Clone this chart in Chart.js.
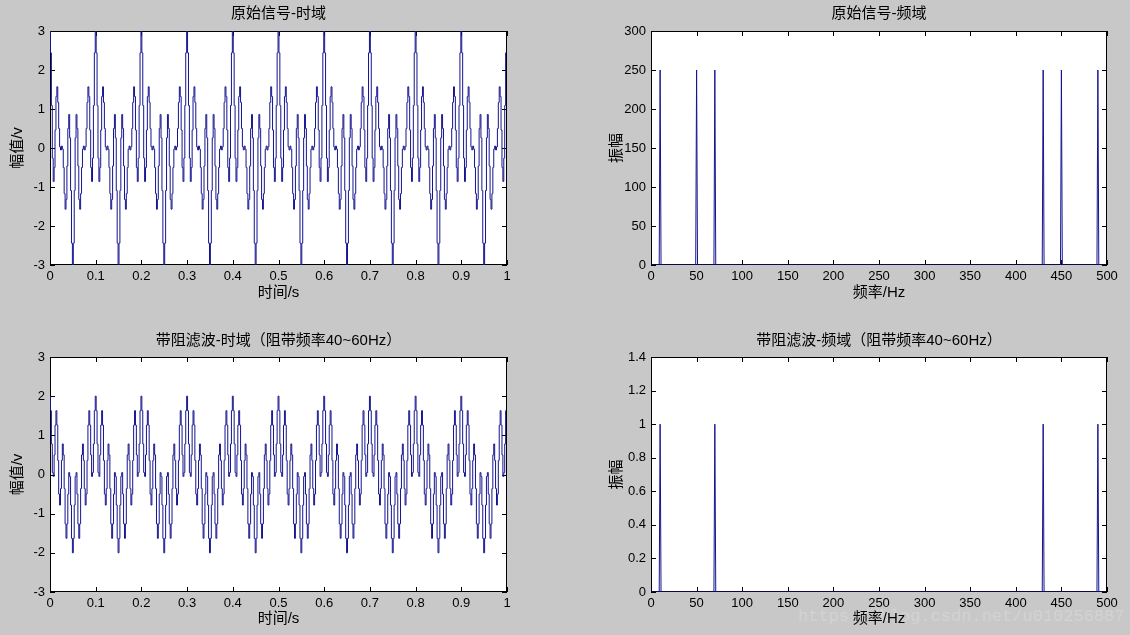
<!DOCTYPE html>
<html><head><meta charset="utf-8">
<script src="https://cdn.jsdelivr.net/npm/chart.js@4.4.1/dist/chart.umd.min.js"></script>
<style>
html,body{margin:0;padding:0;background:#c8c8c8;width:1130px;height:635px;overflow:hidden;}
.wrap{position:absolute;}
canvas{display:block;}
#wm{position:absolute;left:798px;top:607px;font:17px 'Liberation Mono','DejaVu Sans Mono',monospace;color:#d3d3d3;white-space:nowrap;}
</style></head><body>
<div id="wm">https://blog.csdn.net/u010256887</div>
<div class="wrap" style="left:0;top:0;width:565px;height:318px"><canvas id="c1" width="565" height="318"></canvas></div>
<div class="wrap" style="left:565px;top:0;width:565px;height:318px"><canvas id="c2" width="565" height="318"></canvas></div>
<div class="wrap" style="left:0;top:318px;width:565px;height:317px"><canvas id="c3" width="565" height="317"></canvas></div>
<div class="wrap" style="left:565px;top:318px;width:565px;height:317px"><canvas id="c4" width="565" height="317"></canvas></div>
<script>
// sampling rate (Hz) of the time-domain signals
const fs = 500;

// original signal, 500 samples (t = 0 .. 0.998 s)
const sigOriginal = [
3,2.44,1.09,-0.26,-0.86,-0.5,0.46,1.32,1.57,1.17,0.5,0.03,-0.05,0.05,-0.03,-0.5,-1.17,-1.57,-1.32,-0.46,0.5,0.86,0.26,-1.09,-2.44,-3,-2.44,-1.09,0.26,0.86,0.5,-0.46,-1.32,-1.57,-1.17,-0.5,-0.03,0.05,-0.05,0.03,0.5,1.17,1.57,1.32,0.46,-0.5,-0.86,-0.26,1.09,2.44,
3,2.44,1.09,-0.26,-0.86,-0.5,0.46,1.32,1.57,1.17,0.5,0.03,-0.05,0.05,-0.03,-0.5,-1.17,-1.57,-1.32,-0.46,0.5,0.86,0.26,-1.09,-2.44,-3,-2.44,-1.09,0.26,0.86,0.5,-0.46,-1.32,-1.57,-1.17,-0.5,-0.03,0.05,-0.05,0.03,0.5,1.17,1.57,1.32,0.46,-0.5,-0.86,-0.26,1.09,2.44,
3,2.44,1.09,-0.26,-0.86,-0.5,0.46,1.32,1.57,1.17,0.5,0.03,-0.05,0.05,-0.03,-0.5,-1.17,-1.57,-1.32,-0.46,0.5,0.86,0.26,-1.09,-2.44,-3,-2.44,-1.09,0.26,0.86,0.5,-0.46,-1.32,-1.57,-1.17,-0.5,-0.03,0.05,-0.05,0.03,0.5,1.17,1.57,1.32,0.46,-0.5,-0.86,-0.26,1.09,2.44,
3,2.44,1.09,-0.26,-0.86,-0.5,0.46,1.32,1.57,1.17,0.5,0.03,-0.05,0.05,-0.03,-0.5,-1.17,-1.57,-1.32,-0.46,0.5,0.86,0.26,-1.09,-2.44,-3,-2.44,-1.09,0.26,0.86,0.5,-0.46,-1.32,-1.57,-1.17,-0.5,-0.03,0.05,-0.05,0.03,0.5,1.17,1.57,1.32,0.46,-0.5,-0.86,-0.26,1.09,2.44,
3,2.44,1.09,-0.26,-0.86,-0.5,0.46,1.32,1.57,1.17,0.5,0.03,-0.05,0.05,-0.03,-0.5,-1.17,-1.57,-1.32,-0.46,0.5,0.86,0.26,-1.09,-2.44,-3,-2.44,-1.09,0.26,0.86,0.5,-0.46,-1.32,-1.57,-1.17,-0.5,-0.03,0.05,-0.05,0.03,0.5,1.17,1.57,1.32,0.46,-0.5,-0.86,-0.26,1.09,2.44,
3,2.44,1.09,-0.26,-0.86,-0.5,0.46,1.32,1.57,1.17,0.5,0.03,-0.05,0.05,-0.03,-0.5,-1.17,-1.57,-1.32,-0.46,0.5,0.86,0.26,-1.09,-2.44,-3,-2.44,-1.09,0.26,0.86,0.5,-0.46,-1.32,-1.57,-1.17,-0.5,-0.03,0.05,-0.05,0.03,0.5,1.17,1.57,1.32,0.46,-0.5,-0.86,-0.26,1.09,2.44,
3,2.44,1.09,-0.26,-0.86,-0.5,0.46,1.32,1.57,1.17,0.5,0.03,-0.05,0.05,-0.03,-0.5,-1.17,-1.57,-1.32,-0.46,0.5,0.86,0.26,-1.09,-2.44,-3,-2.44,-1.09,0.26,0.86,0.5,-0.46,-1.32,-1.57,-1.17,-0.5,-0.03,0.05,-0.05,0.03,0.5,1.17,1.57,1.32,0.46,-0.5,-0.86,-0.26,1.09,2.44,
3,2.44,1.09,-0.26,-0.86,-0.5,0.46,1.32,1.57,1.17,0.5,0.03,-0.05,0.05,-0.03,-0.5,-1.17,-1.57,-1.32,-0.46,0.5,0.86,0.26,-1.09,-2.44,-3,-2.44,-1.09,0.26,0.86,0.5,-0.46,-1.32,-1.57,-1.17,-0.5,-0.03,0.05,-0.05,0.03,0.5,1.17,1.57,1.32,0.46,-0.5,-0.86,-0.26,1.09,2.44,
3,2.44,1.09,-0.26,-0.86,-0.5,0.46,1.32,1.57,1.17,0.5,0.03,-0.05,0.05,-0.03,-0.5,-1.17,-1.57,-1.32,-0.46,0.5,0.86,0.26,-1.09,-2.44,-3,-2.44,-1.09,0.26,0.86,0.5,-0.46,-1.32,-1.57,-1.17,-0.5,-0.03,0.05,-0.05,0.03,0.5,1.17,1.57,1.32,0.46,-0.5,-0.86,-0.26,1.09,2.44,
3,2.44,1.09,-0.26,-0.86,-0.5,0.46,1.32,1.57,1.17,0.5,0.03,-0.05,0.05,-0.03,-0.5,-1.17,-1.57,-1.32,-0.46,0.5,0.86,0.26,-1.09,-2.44,-3,-2.44,-1.09,0.26,0.86,0.5,-0.46,-1.32,-1.57,-1.17,-0.5,-0.03,0.05,-0.05,0.03,0.5,1.17,1.57,1.32,0.46,-0.5,-0.86,-0.26,1.09,2.44
];

// band-stop filtered signal, 500 samples
const sigFiltered = [
2,1.63,0.78,0.05,-0.05,0.5,1.26,1.63,1.26,0.36,-0.5,-0.78,-0.36,0.36,0.78,0.5,-0.36,-1.26,-1.63,-1.26,-0.5,0.05,-0.05,-0.78,-1.63,-2,-1.63,-0.78,-0.05,0.05,-0.5,-1.26,-1.63,-1.26,-0.36,0.5,0.78,0.36,-0.36,-0.78,-0.5,0.36,1.26,1.63,1.26,0.5,-0.05,0.05,0.78,1.63,
2,1.63,0.78,0.05,-0.05,0.5,1.26,1.63,1.26,0.36,-0.5,-0.78,-0.36,0.36,0.78,0.5,-0.36,-1.26,-1.63,-1.26,-0.5,0.05,-0.05,-0.78,-1.63,-2,-1.63,-0.78,-0.05,0.05,-0.5,-1.26,-1.63,-1.26,-0.36,0.5,0.78,0.36,-0.36,-0.78,-0.5,0.36,1.26,1.63,1.26,0.5,-0.05,0.05,0.78,1.63,
2,1.63,0.78,0.05,-0.05,0.5,1.26,1.63,1.26,0.36,-0.5,-0.78,-0.36,0.36,0.78,0.5,-0.36,-1.26,-1.63,-1.26,-0.5,0.05,-0.05,-0.78,-1.63,-2,-1.63,-0.78,-0.05,0.05,-0.5,-1.26,-1.63,-1.26,-0.36,0.5,0.78,0.36,-0.36,-0.78,-0.5,0.36,1.26,1.63,1.26,0.5,-0.05,0.05,0.78,1.63,
2,1.63,0.78,0.05,-0.05,0.5,1.26,1.63,1.26,0.36,-0.5,-0.78,-0.36,0.36,0.78,0.5,-0.36,-1.26,-1.63,-1.26,-0.5,0.05,-0.05,-0.78,-1.63,-2,-1.63,-0.78,-0.05,0.05,-0.5,-1.26,-1.63,-1.26,-0.36,0.5,0.78,0.36,-0.36,-0.78,-0.5,0.36,1.26,1.63,1.26,0.5,-0.05,0.05,0.78,1.63,
2,1.63,0.78,0.05,-0.05,0.5,1.26,1.63,1.26,0.36,-0.5,-0.78,-0.36,0.36,0.78,0.5,-0.36,-1.26,-1.63,-1.26,-0.5,0.05,-0.05,-0.78,-1.63,-2,-1.63,-0.78,-0.05,0.05,-0.5,-1.26,-1.63,-1.26,-0.36,0.5,0.78,0.36,-0.36,-0.78,-0.5,0.36,1.26,1.63,1.26,0.5,-0.05,0.05,0.78,1.63,
2,1.63,0.78,0.05,-0.05,0.5,1.26,1.63,1.26,0.36,-0.5,-0.78,-0.36,0.36,0.78,0.5,-0.36,-1.26,-1.63,-1.26,-0.5,0.05,-0.05,-0.78,-1.63,-2,-1.63,-0.78,-0.05,0.05,-0.5,-1.26,-1.63,-1.26,-0.36,0.5,0.78,0.36,-0.36,-0.78,-0.5,0.36,1.26,1.63,1.26,0.5,-0.05,0.05,0.78,1.63,
2,1.63,0.78,0.05,-0.05,0.5,1.26,1.63,1.26,0.36,-0.5,-0.78,-0.36,0.36,0.78,0.5,-0.36,-1.26,-1.63,-1.26,-0.5,0.05,-0.05,-0.78,-1.63,-2,-1.63,-0.78,-0.05,0.05,-0.5,-1.26,-1.63,-1.26,-0.36,0.5,0.78,0.36,-0.36,-0.78,-0.5,0.36,1.26,1.63,1.26,0.5,-0.05,0.05,0.78,1.63,
2,1.63,0.78,0.05,-0.05,0.5,1.26,1.63,1.26,0.36,-0.5,-0.78,-0.36,0.36,0.78,0.5,-0.36,-1.26,-1.63,-1.26,-0.5,0.05,-0.05,-0.78,-1.63,-2,-1.63,-0.78,-0.05,0.05,-0.5,-1.26,-1.63,-1.26,-0.36,0.5,0.78,0.36,-0.36,-0.78,-0.5,0.36,1.26,1.63,1.26,0.5,-0.05,0.05,0.78,1.63,
2,1.63,0.78,0.05,-0.05,0.5,1.26,1.63,1.26,0.36,-0.5,-0.78,-0.36,0.36,0.78,0.5,-0.36,-1.26,-1.63,-1.26,-0.5,0.05,-0.05,-0.78,-1.63,-2,-1.63,-0.78,-0.05,0.05,-0.5,-1.26,-1.63,-1.26,-0.36,0.5,0.78,0.36,-0.36,-0.78,-0.5,0.36,1.26,1.63,1.26,0.5,-0.05,0.05,0.78,1.63,
2,1.63,0.78,0.05,-0.05,0.5,1.26,1.63,1.26,0.36,-0.5,-0.78,-0.36,0.36,0.78,0.5,-0.36,-1.26,-1.63,-1.26,-0.5,0.05,-0.05,-0.78,-1.63,-2,-1.63,-0.78,-0.05,0.05,-0.5,-1.26,-1.63,-1.26,-0.36,0.5,0.78,0.36,-0.36,-0.78,-0.5,0.36,1.26,1.63,1.26,0.5,-0.05,0.05,0.78,1.63
];

// spectrum of original signal (frequency bins in Hz and amplitudes)
const freqOriginal = [0, 9, 10, 11, 49, 50, 51, 69, 70, 71, 429, 430, 431, 449, 450, 451, 489, 490, 491, 499];
const ampOriginal  = [0, 0, 250, 0, 0, 250, 0, 0, 250, 0, 0, 250, 0, 0, 250, 0, 0, 250, 0, 0];

// spectrum after band-stop filtering
const freqFiltered = [0, 9, 10, 11, 69, 70, 71, 429, 430, 431, 489, 490, 491, 499];
const ampFiltered  = [0, 0, 1, 0, 0, 1, 0, 0, 1, 0, 0, 1, 0, 0];

// titles and labels
const titles = ['原始信号-时域', '原始信号-频域', '带阻滤波-时域（阻带频率40~60Hz）', '带阻滤波-频域（阻带频率40~60Hz）'];
const xLabels = ['时间/s', '频率/Hz', '时间/s', '频率/Hz'];
const yLabels = ['幅值/v', '振幅', '幅值/v', '振幅'];

const LINE = '#14148f';
const TICKFONT = {family: "'Liberation Sans', Arial, sans-serif", size: 13};
const CJKFONT = "'Liberation Sans', 'Noto Sans CJK SC', sans-serif";
const fmt = v => String(Math.round(v * 1000) / 1000);

const framePlugin = {
  id: 'frame',
  beforeDatasetsDraw(chart) {
    const {ctx, chartArea: a, scales: {x, y}} = chart;
    ctx.save();
    ctx.fillStyle = '#ffffff';
    ctx.fillRect(a.left, a.top, a.right - a.left, a.bottom - a.top);
    ctx.strokeStyle = '#000';
    ctx.lineWidth = 1;
    ctx.beginPath();
    const L = 5;
    x.ticks.forEach(t => {
      const px = Math.round(x.getPixelForValue(t.value)) + 0.5;
      ctx.moveTo(px, a.bottom); ctx.lineTo(px, a.bottom - L);
      ctx.moveTo(px, a.top); ctx.lineTo(px, a.top + L);
    });
    y.ticks.forEach(t => {
      const py = Math.round(y.getPixelForValue(t.value)) + 0.5;
      ctx.moveTo(a.left, py); ctx.lineTo(a.left + L, py);
      ctx.moveTo(a.right, py); ctx.lineTo(a.right - L, py);
    });
    ctx.stroke();
    ctx.strokeRect(Math.round(a.left) + 0.5, Math.round(a.top) + 0.5,
                   Math.round(a.right - a.left) - 1, Math.round(a.bottom - a.top) - 1);
    ctx.restore();
  }
};

function makeChart(id, points, idx, xr, yr, box, stepped) {
  return new Chart(document.getElementById(id), {
    type: 'line',
    data: {datasets: [{data: points, borderColor: LINE, borderWidth: 1, pointRadius: 0, tension: 0, fill: false, stepped: stepped}]},
    options: {
      responsive: false, animation: false, events: [],
      layout: {autoPadding: false, padding: {left: 0, top: 0, bottom: 0, right: box.right}},
      plugins: {
        legend: {display: false}, tooltip: {enabled: false},
        title: {display: true, fullSize: false, text: titles[idx], color: '#000',
                font: {family: CJKFONT, size: 15, weight: 'normal', lineHeight: 1.2},
                padding: {top: box.titleTop, bottom: box.titleBottom}}
      },
      scales: {
        x: {
          type: 'linear', min: xr[0], max: xr[1],
          ticks: {stepSize: xr[2], color: '#000', font: TICKFONT, padding: 4, maxRotation: 0, autoSkip: false, callback: fmt},
          grid: {display: false, drawTicks: false},
          border: {display: false},
          title: {display: true, text: xLabels[idx], color: '#000',
                  font: {family: CJKFONT, size: 15, lineHeight: 1.2}, padding: {top: 0, bottom: box.xtPad}},
          afterFit: s => { s.height = box.xh; }
        },
        y: {
          type: 'linear', min: yr[0], max: yr[1],
          ticks: {stepSize: yr[2], color: '#000', font: TICKFONT, padding: 5, autoSkip: false, callback: fmt},
          grid: {display: false, drawTicks: false},
          border: {display: false},
          title: {display: true, text: yLabels[idx], color: '#000',
                  font: {family: CJKFONT, size: 15, lineHeight: 1.2}, padding: {top: box.ytPad, bottom: 0}},
          afterFit: s => { s.width = box.yw; }
        }
      }
    },
    plugins: [framePlugin]
  });
}

const timePts = arr => arr.map((v, i) => ({x: i / fs, y: v}));
const freqPts = (f, a) => f.map((v, i) => ({x: v, y: a[i]}));

makeChart('c1', timePts(sigOriginal), 0, [0, 1, 0.1], [-3, 3, 1],
  {right: 58, titleTop: 5, titleBottom: 8, xh: 53, xtPad: 16, yw: 50, ytPad: 9}, 'middle');
makeChart('c2', freqPts(freqOriginal, ampOriginal), 1, [0, 500, 50], [0, 300, 50],
  {right: 23, titleTop: 5, titleBottom: 8, xh: 53, xtPad: 16, yw: 86, ytPad: 43}, false);
makeChart('c3', timePts(sigFiltered), 2, [0, 1, 0.1], [-3, 3, 1],
  {right: 58, titleTop: 14, titleBottom: 7, xh: 43, xtPad: 7, yw: 50, ytPad: 9}, 'middle');
makeChart('c4', freqPts(freqFiltered, ampFiltered), 3, [0, 500, 50], [0, 1.4, 0.2],
  {right: 23, titleTop: 14, titleBottom: 7, xh: 43, xtPad: 7, yw: 86, ytPad: 43}, false);
</script>
</body></html>
